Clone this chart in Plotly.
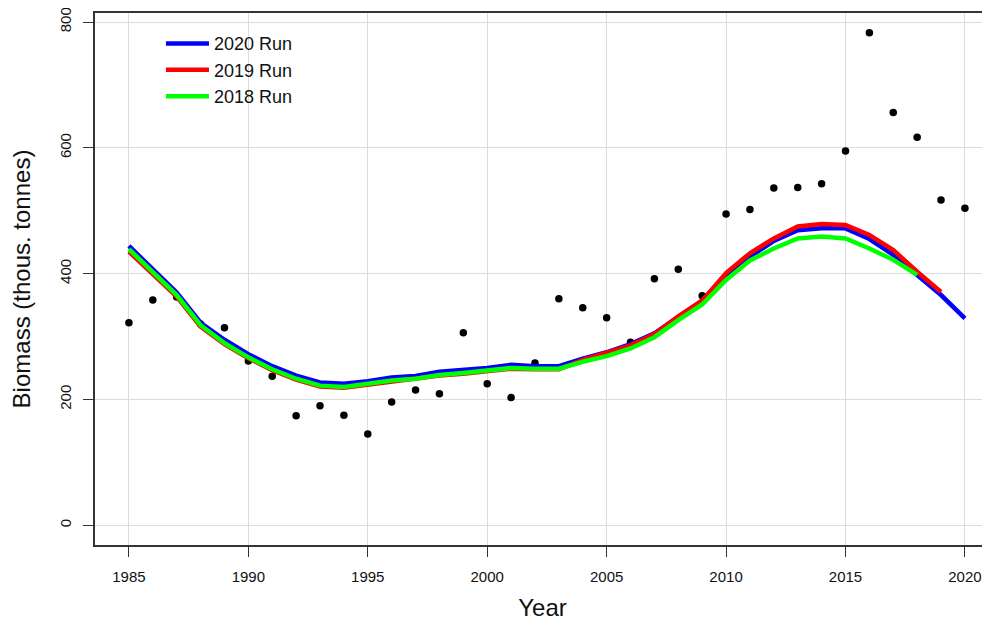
import plotly.graph_objects as go

years = list(range(1985, 2021))

observed = [322, 358, 363, 320, 314, 261, 237, 174, 190, 175, 145, 196, 215, 209, 306,
            225, 203, 258, 360, 346, 330, 291, 392, 407, 365, 495, 502, 536, 537, 543,
            595, 783, 656, 617, 517, 504]

run_2020 = [444, 407, 370, 322, 295, 272, 253, 238, 227, 225, 229, 235, 237.5, 244, 246.5,
            250, 255, 253, 253, 265, 275, 288, 305, 332, 357, 398, 427, 452, 469, 472,
            472, 455, 430, 398, 366, 329]

run_2019 = [435, 400, 363.5, 316, 288, 265.5, 246.5, 231.5, 220.5, 218.5, 223.5, 228.5, 232, 238, 241,
            245, 249, 248, 248, 263, 274, 286, 304, 332, 357, 401, 432.5, 456, 475, 479,
            477.5, 461.5, 437.5, 403, 371]

run_2018 = [439, 402, 366, 318, 289.5, 267, 248, 233, 222, 220, 225, 230, 233, 239, 242,
            246, 250, 249, 249, 260, 269, 281, 299, 326, 351, 390, 421, 440, 456, 459,
            456, 440, 422, 398]

x_ticks = [1985, 1990, 1995, 2000, 2005, 2010, 2015, 2020]
y_ticks = [0, 200, 400, 600, 800]

fig = go.Figure()

fig.add_trace(go.Scatter(x=years, y=observed, mode="markers",
                         marker=dict(color="black", size=7.5), showlegend=False))
fig.add_trace(go.Scatter(x=years[:len(run_2020)], y=run_2020, mode="lines", name="2020 Run",
                         line=dict(color="#0000ff", width=4.5)))
fig.add_trace(go.Scatter(x=years[:len(run_2019)], y=run_2019, mode="lines", name="2019 Run",
                         line=dict(color="#ff0000", width=4.5)))
fig.add_trace(go.Scatter(x=years[:len(run_2018)], y=run_2018, mode="lines", name="2018 Run",
                         line=dict(color="#00ff00", width=4.5)))

font_family = "Liberation Sans, Arial, sans-serif"

# the page body keeps its default 8px margin, so the figure is sized to fit the window exactly
fig.update_layout(
    width=982, height=613,
    margin=dict(l=87, r=0, t=5, b=76, autoexpand=False),
    paper_bgcolor="white", plot_bgcolor="white",
    font=dict(family=font_family, color="#111"),
    showlegend=True,
    legend=dict(x=0.0737, y=0.977, xanchor="left", yanchor="top",
                bgcolor="rgba(0,0,0,0)", borderwidth=0,
                font=dict(size=18, color="#111"), itemwidth=43,
                tracegroupgap=0),
    xaxis=dict(range=[1983.58, 2021.05], tickvals=x_ticks,
               showgrid=True, gridcolor="#dcdcdc", gridwidth=1,
               showline=True, linecolor="#333", linewidth=1.5, mirror=True,
               ticks="outside", ticklen=10, tickcolor="#333", tickwidth=1,
               tickfont=dict(size=15, color="#111"), ticklabelstandoff=7,
               ticklabeloverflow="allow",
               zeroline=False,
               title=dict(text="Year", font=dict(size=24, color="#111"), standoff=27)),
    yaxis=dict(range=[-31.3, 814.3], tickvals=y_ticks,
               showgrid=True, gridcolor="#dcdcdc", gridwidth=1,
               showline=True, linecolor="#333", linewidth=1.5, mirror=False,
               ticks="outside", ticklen=10, tickcolor="#333", tickwidth=1,
               tickangle=-90, tickfont=dict(size=15, color="#111"), ticklabelstandoff=6,
               ticklabeloverflow="allow",
               zeroline=False,
               title=dict(text="Biomass (thous. tonnes)", font=dict(size=24, color="#111"),
                          standoff=22)),
)

fig.write_html("out.html")
